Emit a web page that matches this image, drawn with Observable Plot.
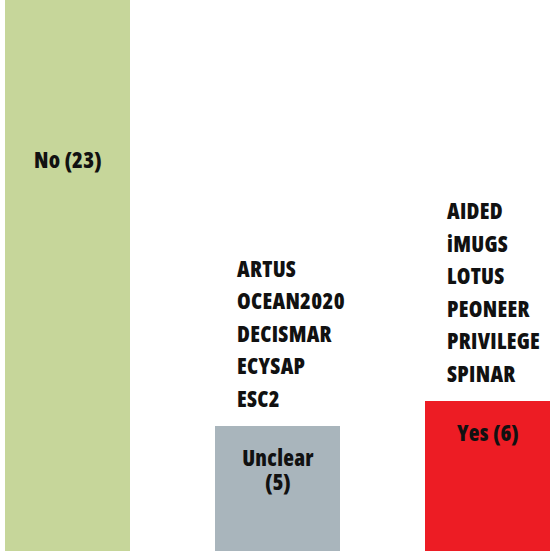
<!DOCTYPE html>
<html>
<head>
<meta charset="utf-8">
<script src="https://cdn.jsdelivr.net/npm/d3@7"></script>
<script src="https://cdn.jsdelivr.net/npm/@observablehq/plot@0.6"></script>
<style>
  html, body { margin: 0; padding: 0; background: #fff; }
  #chart svg { display: block; font-family: "Open Sans", sans-serif; font-stretch: 75%; font-weight: 800; letter-spacing: 0.3px; }
</style>
</head>
<body>
<div id="chart"></div>
<script>
const categories = ["No", "Unclear", "Yes"];
const counts = [23, 5, 6];
const barLabels = ["No (23)", "Unclear\n(5)", "Yes (6)"];
const colors = ["#c6d69a", "#a9b5bc", "#ed1c24"];
const projectLists = [
  "",
  "ARTUS\nOCEAN2020\nDECISMAR\nECYSAP\nESC2",
  "AIDED\niMUGS\nLOTUS\nPEONEER\nPRIVILEGE\nSPINAR"
];

const data = categories.map((c, i) => ({
  cat: c, count: counts[i], label: barLabels[i], projects: projectLists[i]
}));
const yMax = 22.04;

const chart = Plot.plot({
  width: 550,
  height: 551,
  marginLeft: 4,
  marginRight: 0,
  marginTop: 0,
  marginBottom: 0,
  x: { domain: categories, paddingInner: 0.406, paddingOuter: 0, axis: null },
  y: { domain: [0, yMax], axis: null },
  color: { domain: categories, range: colors },
  marks: [
    Plot.barY(data, { x: "cat", y: "count", fill: "cat", clip: true }),
    Plot.text(data.filter(d => d.count <= yMax), {
      x: "cat", y: "count", text: "label", lineAnchor: "top", dy: 22,
      fontSize: 22, lineHeight: 1.09, fill: "#111", fontWeight: 800
    }),
    Plot.text(data.filter(d => d.count > yMax), {
      x: "cat", text: "label", frameAnchor: "top", lineAnchor: "middle", dy: 160,
      fontSize: 22, fill: "#111", fontWeight: 800
    }),
    Plot.text(data.filter(d => d.projects), {
      x: "cat", y: "count", text: "projects", lineAnchor: "bottom", textAnchor: "start",
      dx: -41, dy: -20, fontSize: 22, lineHeight: 1.477, fill: "#111", fontWeight: 800
    })
  ]
});
document.getElementById("chart").append(chart);
</script>
</body>
</html>
